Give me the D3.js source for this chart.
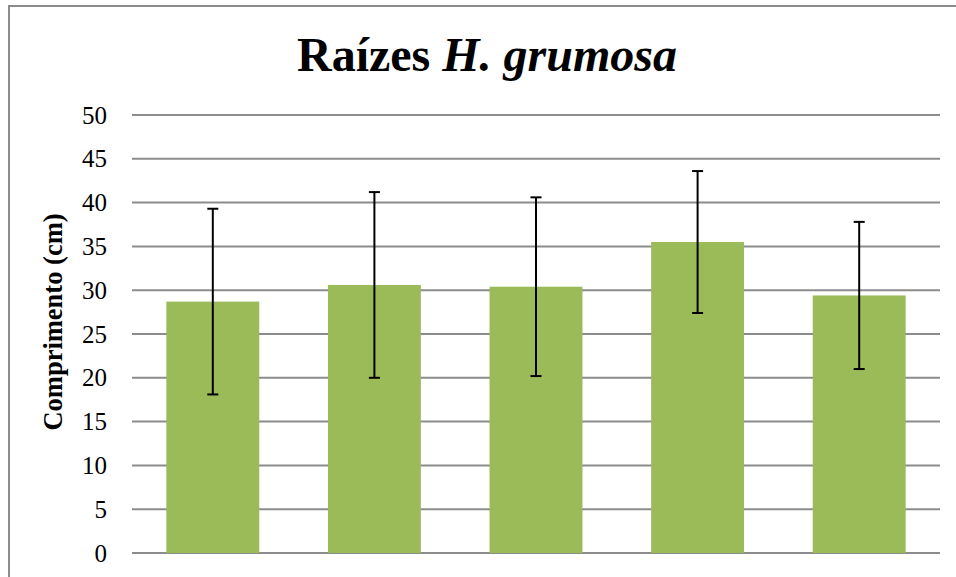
<!DOCTYPE html>
<html>
<head>
<meta charset="utf-8">
<script src="https://cdn.jsdelivr.net/npm/d3@7"></script>
<style>
  body { margin: 0; background: #fff; }
  svg { display: block; }
  .serif { font-family: "Liberation Serif", Tinos, Times, "DejaVu Serif", serif; }
</style>
</head>
<body>
<svg id="chart" width="956" height="577"></svg>
<script>
// data
const categories = ["A", "B", "C", "D", "E"];
const means = [28.7, 30.6, 30.4, 35.5, 29.4];
const errors = [10.6, 10.6, 10.2, 8.1, 8.4];
const yTicks = [0, 5, 10, 15, 20, 25, 30, 35, 40, 45, 50];

const margin = { top: 115, right: 16, bottom: 24, left: 132 };
const width = 956 - margin.left - margin.right;
const height = 577 - margin.top - margin.bottom;

const svg = d3.select("#chart");

// outer frame (left and top edges only visible)
svg.append("path")
    .attr("d", "M9,577 V6 H956")
    .attr("fill", "none")
    .attr("stroke", "#8c8c8c")
    .attr("stroke-width", 2);

const g = svg.append("g")
    .attr("transform", `translate(${margin.left},${margin.top})`);

const xScale = d3.scaleBand()
    .domain(categories)
    .range([0, width])
    .paddingInner(0.425)
    .paddingOuter(0.2125);

const yScale = d3.scaleLinear()
    .domain([0, 50])
    .range([height, 0]);

// gridlines
g.selectAll(".grid")
    .data(yTicks)
    .enter()
    .append("line")
    .attr("x1", 0)
    .attr("x2", width)
    .attr("y1", d => yScale(d))
    .attr("y2", d => yScale(d))
    .attr("stroke", "#8c8c8c")
    .attr("stroke-width", 2);

// y axis labels
const yAxis = g.append("g")
    .call(d3.axisLeft(yScale).tickValues(yTicks).tickSize(0).tickPadding(25));
yAxis.attr("font-family", null).attr("font-size", null).attr("class", "serif");
yAxis.select(".domain").remove();
yAxis.selectAll("text")
    .style("font-size", "25px")
    .attr("fill", "#000");

// bars
g.selectAll(".bar")
    .data(means)
    .enter()
    .append("rect")
    .attr("x", (d, i) => xScale(categories[i]))
    .attr("y", d => yScale(d))
    .attr("width", xScale.bandwidth())
    .attr("height", d => height - yScale(d))
    .attr("fill", "#9bbb59");

// error bars
const capW = 11;
const err = g.selectAll(".err")
    .data(means)
    .enter()
    .append("g")
    .attr("stroke", "#000")
    .attr("stroke-width", 2);

err.append("line")
    .attr("x1", (d, i) => xScale(categories[i]) + xScale.bandwidth() / 2)
    .attr("x2", (d, i) => xScale(categories[i]) + xScale.bandwidth() / 2)
    .attr("y1", (d, i) => yScale(d + errors[i]))
    .attr("y2", (d, i) => yScale(d - errors[i]));

err.append("line")
    .attr("x1", (d, i) => xScale(categories[i]) + xScale.bandwidth() / 2 - capW / 2)
    .attr("x2", (d, i) => xScale(categories[i]) + xScale.bandwidth() / 2 + capW / 2)
    .attr("y1", (d, i) => yScale(d + errors[i]))
    .attr("y2", (d, i) => yScale(d + errors[i]));

err.append("line")
    .attr("x1", (d, i) => xScale(categories[i]) + xScale.bandwidth() / 2 - capW / 2)
    .attr("x2", (d, i) => xScale(categories[i]) + xScale.bandwidth() / 2 + capW / 2)
    .attr("y1", (d, i) => yScale(d - errors[i]))
    .attr("y2", (d, i) => yScale(d - errors[i]));

// title
const title = svg.append("text")
    .attr("class", "serif")
    .attr("x", 487)
    .attr("y", 71)
    .attr("text-anchor", "middle")
    .style("font-weight", "bold")
    .style("font-size", "48px");
title.append("tspan").text("Raízes ");
title.append("tspan").style("font-style", "italic").text("H. grumosa");

// y axis title
svg.append("text")
    .attr("class", "serif")
    .attr("text-anchor", "middle")
    .attr("transform", `translate(62, 322) rotate(-90)`)
    .style("font-weight", "bold")
    .style("font-size", "26.5px")
    .text("Comprimento (cm)");
</script>
</body>
</html>
